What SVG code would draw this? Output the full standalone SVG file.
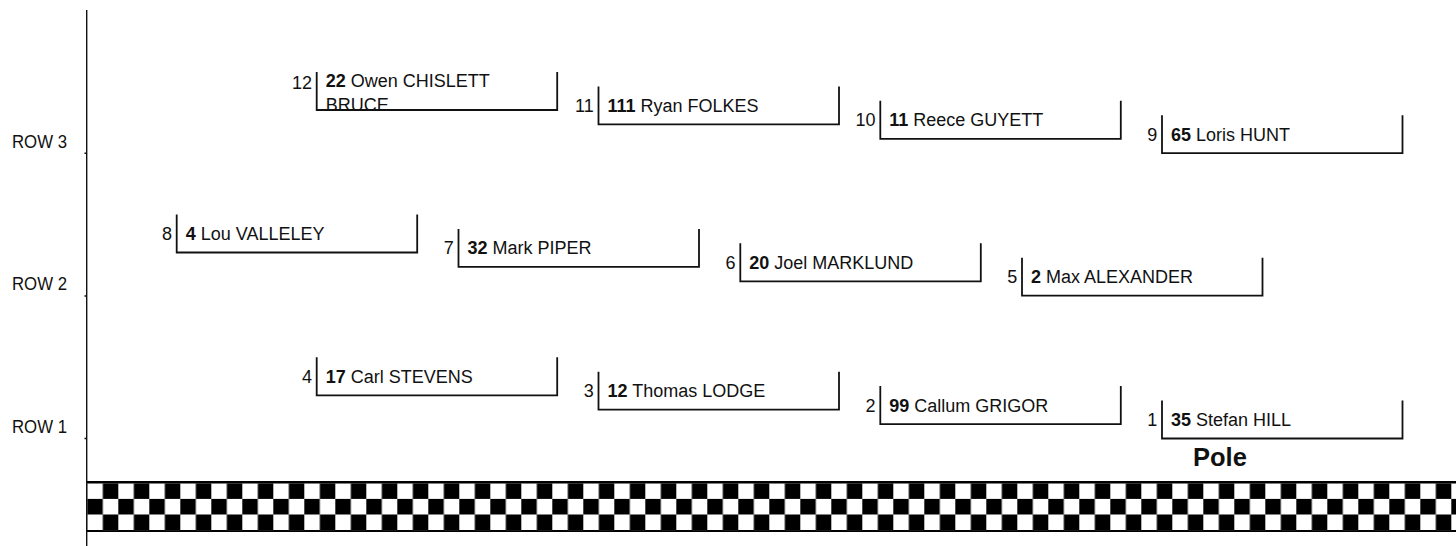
<svg xmlns="http://www.w3.org/2000/svg" width="1456" height="546" viewBox="0 0 1456 546">
<style>
text { font-family: "Liberation Sans", Arial, sans-serif; fill: #111; }
.nm { font-size: 18px; }
.pos { font-size: 18px; text-anchor: end; }
.row { font-size: 19px; }
.pole { font-size: 25.5px; font-weight: bold; }
.b { font-weight: bold; }
.box { fill: none; stroke: #111; stroke-width: 1.8; }
.axis { stroke: #111; stroke-width: 1.4; fill: none; }
</style>
<defs>
<pattern id="chk" patternUnits="userSpaceOnUse" x="87.3" y="483.3" width="31" height="31.2">
<rect x="0" y="0" width="31" height="31.2" fill="#000"/>
<rect x="0" y="0" width="15.5" height="15.6" fill="#fff"/>
<rect x="15.5" y="15.6" width="15.5" height="15.6" fill="#fff"/>
</pattern>
<clipPath id="clip12"><rect x="316" y="60" width="242" height="50"/></clipPath>
</defs>
<g id="axis">
<path class="axis" d="M86.7,10 V546 M84.5,153.3 H86.7 M84.5,296 H86.7 M84.5,438.5 H86.7"/>
<text class="row" x="12" y="147.5" textLength="55" lengthAdjust="spacingAndGlyphs">ROW 3</text>
<text class="row" x="12" y="290" textLength="55" lengthAdjust="spacingAndGlyphs">ROW 2</text>
<text class="row" x="12" y="432.5" textLength="55" lengthAdjust="spacingAndGlyphs">ROW 1</text>
</g>
<g id="flag">
<rect x="87" y="481" width="1369" height="51" fill="#000"/>
<rect x="87.3" y="483.3" width="1368.7" height="46.8" fill="url(#chk)"/>
</g>
<g id="connectors"></g>
<g id="p4"><path class="box" d="M316.7,357.3 V395.3 H557.2 V357.3"/><text class="pos" x="312" y="382.8">4</text><text class="nm" x="325.7" y="382.8"><tspan class="b">17</tspan> Carl STEVENS</text></g>
<g id="p3"><path class="box" d="M598.5,371.7 V409.7 H839 V371.7"/><text class="pos" x="593.8" y="397.2">3</text><text class="nm" x="607.5" y="397.2"><tspan class="b">12</tspan> Thomas LODGE</text></g>
<g id="p2"><path class="box" d="M880.3,386.1 V424.1 H1120.8 V386.1"/><text class="pos" x="875.6" y="411.6">2</text><text class="nm" x="889.3" y="411.6"><tspan class="b">99</tspan> Callum GRIGOR</text></g>
<g id="p1"><path class="box" d="M1162,400.5 V438.5 H1402.5 V400.5"/><text class="pos" x="1157.3" y="426">1</text><text class="nm" x="1171" y="426"><tspan class="b">35</tspan> Stefan HILL</text></g>
<g id="pole"><text class="pole" x="1193" y="466">Pole</text></g>
<g id="p8"><path class="box" d="M176.7,214.5 V252.5 H417.2 V214.5"/><text class="pos" x="172" y="240">8</text><text class="nm" x="185.7" y="240"><tspan class="b">4</tspan> Lou VALLELEY</text></g>
<g id="p7"><path class="box" d="M458.5,228.9 V266.9 H699 V228.9"/><text class="pos" x="453.8" y="254.4">7</text><text class="nm" x="467.5" y="254.4"><tspan class="b">32</tspan> Mark PIPER</text></g>
<g id="p6"><path class="box" d="M740.3,243.3 V281.3 H980.8 V243.3"/><text class="pos" x="735.6" y="268.8">6</text><text class="nm" x="749.3" y="268.8"><tspan class="b">20</tspan> Joel MARKLUND</text></g>
<g id="p5"><path class="box" d="M1022,257.7 V295.7 H1262.5 V257.7"/><text class="pos" x="1017.3" y="283.2">5</text><text class="nm" x="1031" y="283.2"><tspan class="b">2</tspan> Max ALEXANDER</text></g>
<g id="p12"><text class="nm" x="325.7" y="86.5" clip-path="url(#clip12)"><tspan class="b">22</tspan> Owen CHISLETT<tspan x="325.7" dy="24">BRUCE</tspan></text><path class="box" d="M316.7,72 V110 H557.2 V72"/><text class="pos" x="312" y="88.5">12</text></g>
<g id="p11"><path class="box" d="M598.5,86.4 V124.4 H839 V86.4"/><text class="pos" x="593.8" y="111.9">11</text><text class="nm" x="607.5" y="111.9"><tspan class="b">111</tspan> Ryan FOLKES</text></g>
<g id="p10"><path class="box" d="M880.3,100.8 V138.8 H1120.8 V100.8"/><text class="pos" x="875.6" y="126.3">10</text><text class="nm" x="889.3" y="126.3"><tspan class="b">11</tspan> Reece GUYETT</text></g>
<g id="p9"><path class="box" d="M1162,115.2 V153.2 H1402.5 V115.2"/><text class="pos" x="1157.3" y="140.7">9</text><text class="nm" x="1171" y="140.7"><tspan class="b">65</tspan> Loris HUNT</text></g>
</svg>
